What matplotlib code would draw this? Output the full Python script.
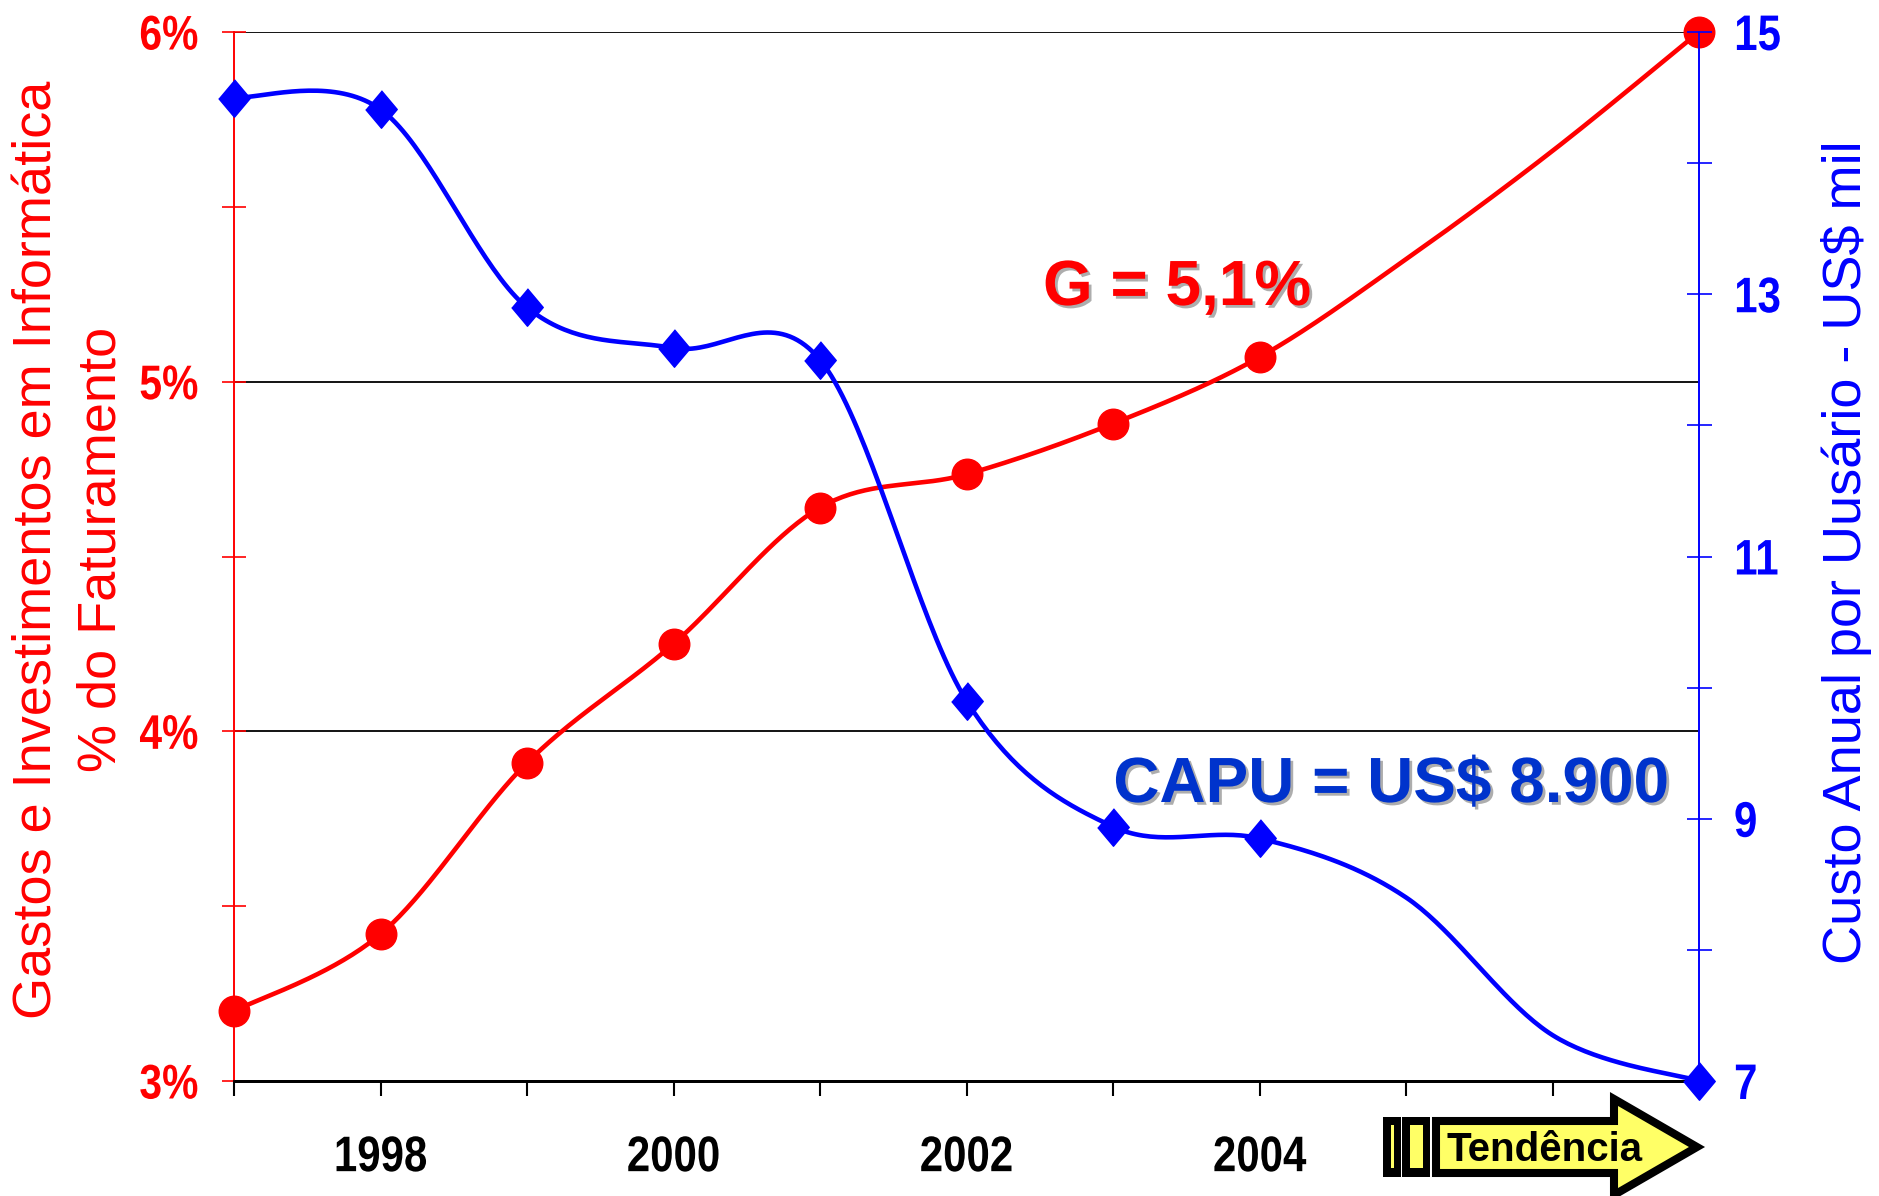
#!/usr/bin/env python3
"""Gastos em informatica (% do faturamento) x custo anual por usuario."""

from __future__ import annotations

import matplotlib

matplotlib.use("Agg")

import matplotlib.pyplot as plt
import matplotlib.patheffects as pe
import numpy as np
from matplotlib.patches import Polygon, Rectangle
from matplotlib.transforms import Affine2D

W, H = 1879, 1196

# dados (2005 e 2006 sem marcador, so a linha)
anos = [1997, 1998, 1999, 2000, 2001, 2002, 2003, 2004, 2005, 2006, 2007]
gastos_pct = [3.20, 3.42, 3.91, 4.25, 4.64, 4.735, 4.88, 5.07, 5.35, 5.66, 6.00]
custo_mil = [14.50, 14.41, 12.90, 12.59, 12.50, 9.90, 8.94, 8.85, 8.40, 7.35, 7.00]
anos_marcador = [1997, 1998, 1999, 2000, 2001, 2002, 2003, 2004, 2007]

x_ticks = [1997, 1998, 1999, 2000, 2001, 2002, 2003, 2004, 2005, 2006, 2007]
x_labels = ["", "1998", "", "2000", "", "2002", "", "2004", "", "", ""]
left_ticks = [3, 4, 5, 6]
left_labels = ["3%", "4%", "5%", "6%"]
left_minor = [3.5, 4.5, 5.5]
right_ticks = [7, 8, 9, 10, 11, 12, 13, 14, 15]
right_labels = ["7", "", "9", "", "11", "", "13", "", "15"]

RED = "#FF0000"
BLUE = "#0000FF"
CAPU_BLUE = "#0033CC"
YELLOW = "#FFFF66"
FONT = "Liberation Sans"


class Squeeze(pe.AbstractPathEffect):
    """Narrow the drawn text horizontally (the original tick labels are condensed)."""

    def __init__(self, sx, anchor="center"):
        super().__init__()
        self.sx = sx
        self.anchor = anchor

    def draw_path(self, renderer, gc, tpath, affine, rgbFace=None):
        bb = tpath.get_extents(affine)
        if self.anchor == "left":
            x0 = bb.x0
        elif self.anchor == "right":
            x0 = bb.x1
        else:
            x0 = (bb.x0 + bb.x1) / 2
        squeezed = affine + Affine2D().translate(-x0, 0).scale(self.sx, 1).translate(x0, 0)
        renderer.draw_path(gc, tpath, squeezed, rgbFace)


def smooth(xs, ys, n=40):
    """Excel-like smoothed line: cubic Bezier with Catmull-Rom tangents (1/6)."""
    pts = np.column_stack([np.asarray(xs, dtype=float), np.asarray(ys, dtype=float)])
    out = [pts[0]]
    for i in range(len(pts) - 1):
        p0 = pts[i - 1] if i > 0 else pts[i]
        p1 = pts[i]
        p2 = pts[i + 1]
        p3 = pts[i + 2] if i + 2 < len(pts) else pts[i + 1]
        c1 = p1 + (p2 - p0) / 6.0
        c2 = p2 - (p3 - p1) / 6.0
        t = np.linspace(0, 1, n)[1:, None]
        seg = ((1 - t) ** 3) * p1 + 3 * ((1 - t) ** 2) * t * c1 + 3 * (1 - t) * t**2 * c2 + t**3 * p2
        out.extend(seg)
    out = np.array(out)
    return out[:, 0], out[:, 1]


def draw_tendencia(fig):
    # pixel coordinates measured from the top-left corner of the figure
    tr = Affine2D().scale(1 / W, -1 / H).translate(0, 1) + fig.transFigure
    for x0, x1 in [(1383, 1401), (1402, 1430)]:
        fig.patches.append(Rectangle((x0, 1117), x1 - x0, 60, transform=tr,
                                     facecolor="black", edgecolor="none"))
    for x0, x1 in [(1391, 1394), (1410, 1423)]:
        fig.patches.append(Rectangle((x0, 1125), x1 - x0, 43, transform=tr,
                                     facecolor=YELLOW, edgecolor="none"))
    arrow = [(1436, 1121), (1614, 1121), (1614, 1099), (1697, 1147),
             (1614, 1195), (1614, 1173), (1436, 1173)]
    fig.patches.append(Polygon(arrow, closed=True, transform=tr, facecolor=YELLOW,
                               edgecolor="black", linewidth=5.8, joinstyle="miter"))
    fig.text(1545 / W, 1 - 1161 / H, "Tendência", ha="center", va="baseline",
             fontsize=29, fontweight="bold", family=FONT, color="black")


def main() -> None:
    fig = plt.figure(figsize=(W / 100, H / 100), dpi=100)
    ax = fig.add_axes([234 / W, 1 - 1081 / H, (1699 - 234) / W, (1081 - 32) / H])
    ax2 = ax.twinx()

    marc = [anos.index(a) for a in anos_marcador]

    # red series: gastos
    sx, sy = smooth(anos, gastos_pct)
    ax.plot(sx, sy, color=RED, linewidth=3.3, clip_on=False, zorder=3)
    ax.plot([anos[i] for i in marc], [gastos_pct[i] for i in marc], linestyle="none",
            marker="o", markersize=22, color=RED, clip_on=False, zorder=4)

    # blue series: custo anual por usuario
    diamond = [(0, 1), (0.84, 0), (0, -1), (-0.84, 0)]
    bx, by = smooth(anos, custo_mil)
    ax2.plot(bx, by, color=BLUE, linewidth=3.3, clip_on=False, zorder=3)
    ax2.plot([anos[i] for i in marc], [custo_mil[i] for i in marc], linestyle="none",
             marker=diamond, markersize=27, color=BLUE, clip_on=False, zorder=4)

    ax.set_xlim(1997, 2007)
    ax.set_ylim(3, 6)
    ax2.set_ylim(7, 15)

    ax.set_xticks(x_ticks)
    xl = ax.set_xticklabels(x_labels, fontsize=36, fontweight="bold", family=FONT)
    ax.tick_params(axis="x", direction="out", length=11, width=1.5, color="black", pad=28)

    ax.set_yticks(left_ticks)
    yl = ax.set_yticklabels(left_labels, fontsize=35, fontweight="bold", family=FONT, color=RED)
    ax.set_yticks(left_minor, minor=True)
    ax.tick_params(axis="y", which="both", direction="inout", length=17, width=1.2,
                   color=RED, pad=17)
    ax.yaxis.grid(True, which="major", color="black", linewidth=1.3)
    ax.set_axisbelow(True)

    ax2.set_yticks(right_ticks)
    rl = ax2.set_yticklabels(right_labels, fontsize=36, fontweight="bold", family=FONT, color=BLUE)
    ax2.tick_params(axis="y", direction="inout", length=18, width=1.2, color=BLUE, pad=16)

    for lbl in xl:
        lbl.set_path_effects([Squeeze(0.84, "center")])
    for lbl in yl:
        lbl.set_path_effects([Squeeze(0.84, "right")])
    for lbl in rl:
        lbl.set_path_effects([Squeeze(0.84, "left")])

    for a in (ax, ax2):
        a.spines["top"].set_visible(False)
        a.spines["left"].set_color(RED)
        a.spines["right"].set_color(BLUE)
        a.spines["left"].set_linewidth(1.2)
        a.spines["right"].set_linewidth(1.2)
        a.spines["bottom"].set_color("black")
        a.spines["bottom"].set_linewidth(2)

    # eixos: titulos
    fig.text(38 / W, 1 - 550 / H, "Gastos e Investimentos em Informática", rotation=90,
             ha="center", va="center", fontsize=39, family=FONT, color=RED)
    fig.text(102 / W, 1 - 549 / H, "% do Faturamento", rotation=90,
             ha="center", va="center", fontsize=39, family=FONT, color=RED)
    fig.text(1847 / W, 1 - 552 / H, "Custo Anual por Uusário - US$ mil", rotation=90,
             ha="center", va="center", fontsize=39, family=FONT, color=BLUE)

    shadow = [pe.withSimplePatchShadow(offset=(2, -2), shadow_rgbFace="#999999", alpha=0.8)]
    fig.text(1177 / W, 1 - 305 / H, "G = 5,1%", ha="center", va="baseline",
             fontsize=46, fontweight="bold", family=FONT, color=RED, path_effects=shadow)
    fig.text(1391 / W, 1 - 802 / H, "CAPU = US$ 8.900", ha="center", va="baseline",
             fontsize=46, fontweight="bold", family=FONT, color=CAPU_BLUE, path_effects=shadow)

    draw_tendencia(fig)

    fig.savefig("out.png", dpi=100)
    plt.close(fig)


if __name__ == "__main__":
    main()
